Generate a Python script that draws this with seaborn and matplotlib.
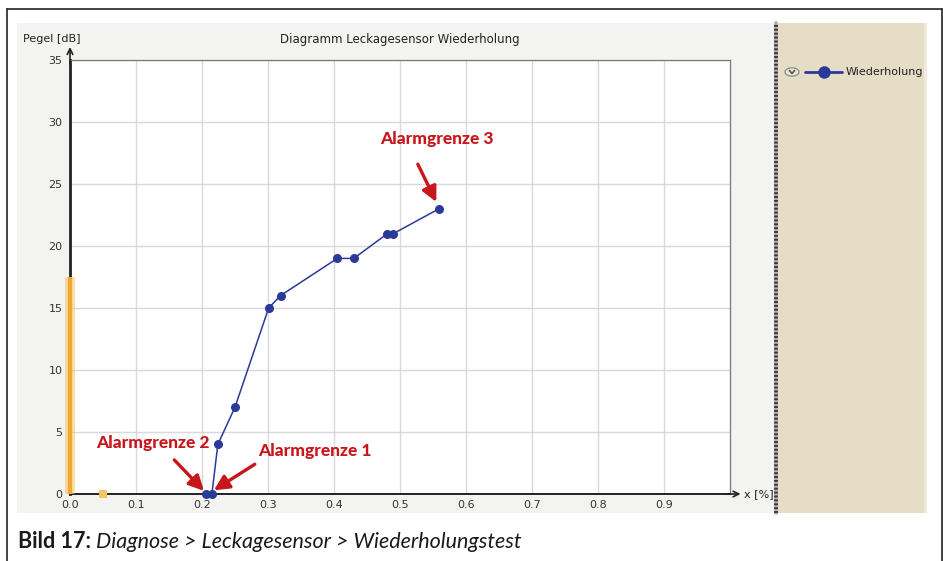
import matplotlib
matplotlib.use("Agg")
import matplotlib.pyplot as plt
from matplotlib.patches import Rectangle, Circle
from matplotlib.lines import Line2D
import seaborn as sns
import pandas as pd

# Repeat-test measurement: travel x [%] against level [dB]
x_values = [0.206, 0.215, 0.224, 0.250, 0.301, 0.319, 0.405, 0.430, 0.481, 0.490, 0.559]
level_db = [0, 0, 4, 7, 15, 16, 19, 19, 21, 21, 23]
series_name = "Wiederholung"

# Orange marker bar at the origin and the small square on the x axis
bar_x = 0.0
bar_top = 17.5
square_x = 0.05
square_y = 0.0

x_ticks = [0.0, 0.1, 0.2, 0.3, 0.4, 0.5, 0.6, 0.7, 0.8, 0.9]
y_ticks = [0, 5, 10, 15, 20, 25, 30, 35]

alarm_labels = ["Alarmgrenze 1", "Alarmgrenze 2", "Alarmgrenze 3"]

df = pd.DataFrame({"x": x_values, "Pegel": level_db, "Serie": series_name})

sns.set_style("white")
plt.rcParams["font.family"] = ["DejaVu Sans"]

W, H = 943, 561
fig = plt.figure(figsize=(W / 100, H / 100), dpi=100)
fig.patch.set_facecolor("white")


def fx(px):
    return px / W


def fy(py):
    return 1 - py / H


# outer frame lines
fig.add_artist(Line2D([fx(7), fx(7)], [0, fy(9)], color="#222222", lw=1.2))
fig.add_artist(Line2D([fx(7), fx(942)], [fy(9), fy(9)], color="#222222", lw=1.2))
fig.add_artist(Line2D([fx(941.5), fx(941.5)], [0, fy(9)], color="#222222", lw=1.2))

# chart panel background and legend panel
fig.add_artist(Rectangle((fx(17), fy(513)), fx(775 - 17), (513 - 23) / H,
                         facecolor="#f3f3f1", edgecolor="none", zorder=0))
fig.add_artist(Rectangle((fx(778), fy(513)), fx(927 - 778), (513 - 23) / H,
                         facecolor="#eeeae0", edgecolor="none", zorder=0))
fig.add_artist(Rectangle((fx(778), fy(513)), fx(924 - 778), (513 - 23) / H,
                         facecolor="#e6ddc7", edgecolor="none", zorder=0))
fig.add_artist(Line2D([fx(776), fx(776)], [fy(513), fy(23)], color="#b0b0b0",
                      lw=2.8, zorder=1))
fig.add_artist(Line2D([fx(776), fx(776)], [fy(513), fy(23)], color="#3a3a3a",
                      lw=2.8, ls=(0, (0.5, 0.5)), zorder=1))

ax = fig.add_axes([fx(70), fy(494), fx(730 - 70), (494 - 60) / H])
ax.set_facecolor("white")

sns.lineplot(data=df, x="x", y="Pegel", hue="Serie", palette=["#2b3a98"],
             marker="o", markersize=6.5, markeredgewidth=0, linewidth=1.1,
             ax=ax, legend=False, zorder=5, clip_on=False)

# orange bar on the y axis and square on the x axis
ax.plot([bar_x, bar_x], [0, bar_top], color="#f7c56a", lw=7, alpha=0.6,
        solid_capstyle="butt", zorder=3, clip_on=False)
ax.plot([bar_x, bar_x], [0, bar_top], color="#f0a830", lw=3,
        solid_capstyle="butt", zorder=3, clip_on=False)
ax.plot([square_x], [square_y], marker="s", color="#f6c367", markersize=6,
        markeredgewidth=0, zorder=4, clip_on=False)

ax.set_xlim(0, 1.0)
ax.set_ylim(0, 35)
ax.set_xticks(x_ticks)
ax.set_yticks(y_ticks)
ax.set_xticklabels([f"{t:.1f}" for t in x_ticks])
ax.set_yticklabels([str(t) for t in y_ticks])
ax.grid(True, color="#d9d9d9", lw=1.0)
ax.set_axisbelow(True)
ax.set_xlabel("")
ax.set_ylabel("")

for side in ["top", "right"]:
    ax.spines[side].set_color("#777777")
    ax.spines[side].set_linewidth(0.9)
ax.spines["left"].set_color("#222222")
ax.spines["left"].set_linewidth(2.0)
ax.spines["bottom"].set_color("#222222")
ax.spines["bottom"].set_linewidth(1.4)
ax.tick_params(axis="both", direction="inout", length=7, width=1.0,
               color="#333333", labelsize=8, labelcolor="#333333", pad=1)
ax.tick_params(axis="y", pad=2)

# axis arrows
ax.annotate("", xy=(0, 1.03), xytext=(0, 0.99), xycoords="axes fraction",
            arrowprops=dict(arrowstyle="->", color="#222222", lw=1.2,
                            shrinkA=0, shrinkB=0), annotation_clip=False)
ax.annotate("", xy=(1.016, 0), xytext=(0.99, 0), xycoords="axes fraction",
            arrowprops=dict(arrowstyle="->", color="#222222", lw=1.2,
                            shrinkA=0, shrinkB=0), annotation_clip=False)

fig.text(fx(23), fy(39), "Pegel [dB]", fontsize=8, color="#222222", va="center", ha="left")
fig.text(fx(744), fy(494), "x [%]", fontsize=8, color="#222222", va="center", ha="left")
fig.text(fx(400), fy(40), "Diagramm Leckagesensor Wiederholung", fontsize=8.5,
         color="#222222", va="center", ha="center")

# alarm limit labels and arrows
red = "#c8161d"
ann_font = dict(fontsize=12.5, fontweight="black", color=red, family=["Lato", "DejaVu Sans"])
arrow_kw = dict(arrowstyle="-|>,head_length=0.9,head_width=0.45",
                color=red, lw=2.4, shrinkA=0, shrinkB=0)

ax.text(0.556, 28.6, alarm_labels[2], ha="center", va="center", **ann_font)
ax.annotate("", xy=(x_values[-1] - 0.004, level_db[-1] + 0.55),
            xytext=(0.527, 26.6), arrowprops=arrow_kw, annotation_clip=False)

ax.text(0.126, 4.15, alarm_labels[1], ha="center", va="center", **ann_font)
ax.annotate("", xy=(x_values[0] - 0.003, 0.25),
            xytext=(0.158, 2.75), arrowprops=arrow_kw, annotation_clip=False)

ax.text(0.371, 3.45, alarm_labels[0], ha="center", va="center", **ann_font)
ax.annotate("", xy=(x_values[1] + 0.003, 0.3),
            xytext=(0.280, 2.4), arrowprops=arrow_kw, annotation_clip=False)

# legend panel entry
fig.add_artist(Circle((fx(792), fy(72)), 7 / W, transform=fig.transFigure,
                      facecolor="#ece6d6", edgecolor="#8a8a8a", lw=0.9))
fig.add_artist(Line2D([fx(789.5), fx(792), fx(794.5)], [fy(70.5), fy(73.5), fy(70.5)],
                      color="#555555", lw=1.2))
fig.add_artist(Line2D([fx(805), fx(842)], [fy(72), fy(72)], color="#2b3a98", lw=2))
fig.add_artist(Line2D([fx(823.5)], [fy(72)], color="#2b3a98", marker="o",
                      markersize=9, markeredgewidth=0))
fig.text(fx(846), fy(72), series_name, fontsize=8, color="#222222",
         ha="left", va="center")

# caption
cap_font = ["Lato", "DejaVu Sans"]
t1 = fig.text(fx(18), fy(542), "Bild 17:", fontsize=15.5, fontweight="bold",
              color="#1a1a1a", family=cap_font, ha="left", va="center")
fig.canvas.draw()
bb = t1.get_window_extent(renderer=fig.canvas.get_renderer())
fig.text(bb.x1 / W + fx(5), fy(542), "Diagnose > Leckagesensor > Wiederholungstest",
         fontsize=15.5, fontstyle="italic", color="#1a1a1a", family=cap_font,
         ha="left", va="center")

fig.savefig("out.png", dpi=100, facecolor="white")
